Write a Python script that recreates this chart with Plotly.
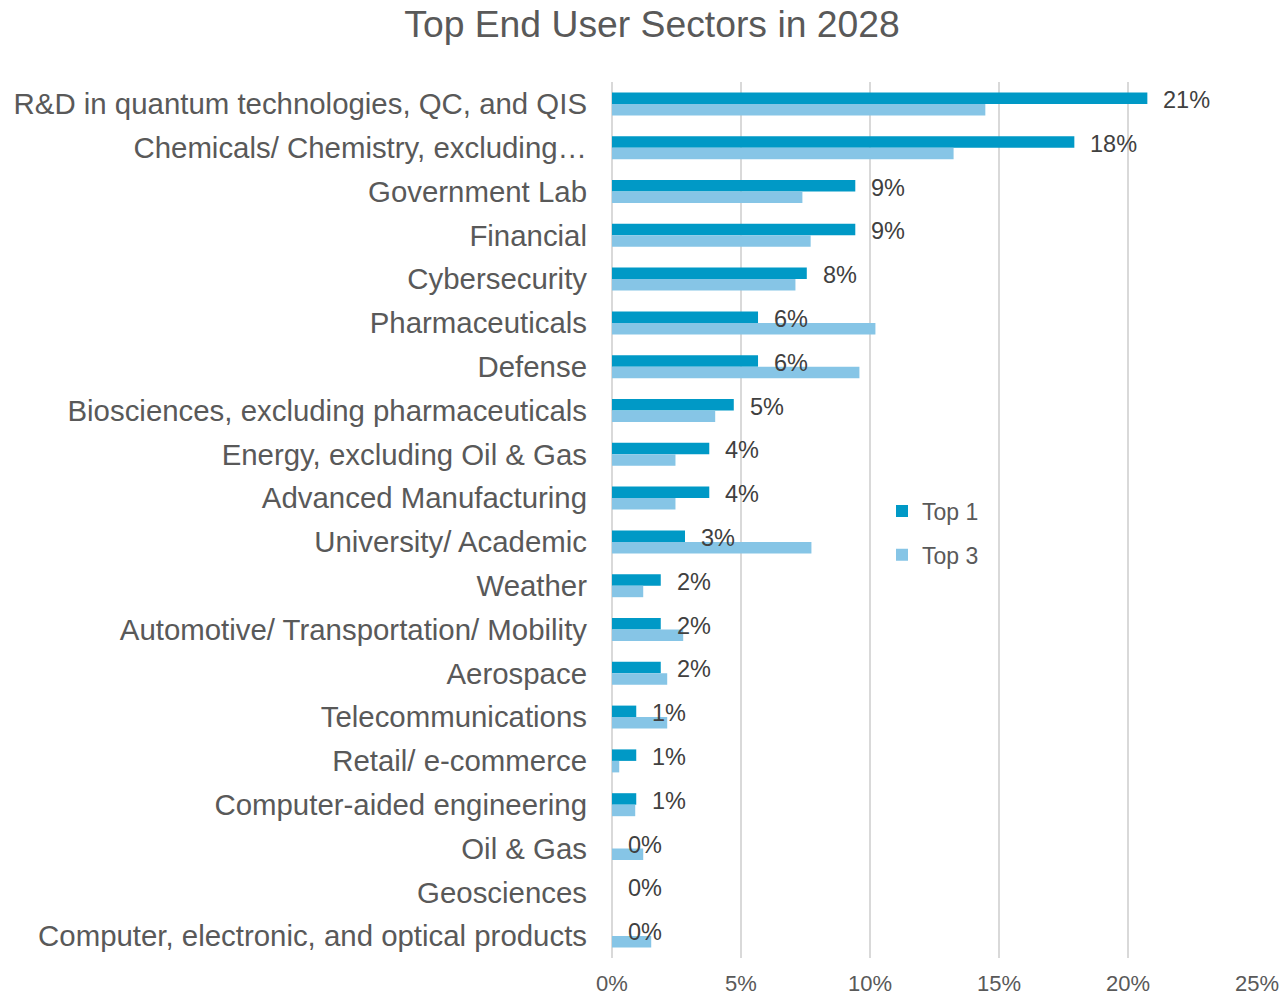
import plotly.graph_objects as go

# Sector names, top to bottom
sectors = [
    "R&D in quantum technologies, QC, and QIS",
    "Chemicals/ Chemistry, excluding…",
    "Government Lab",
    "Financial",
    "Cybersecurity",
    "Pharmaceuticals",
    "Defense",
    "Biosciences, excluding pharmaceuticals",
    "Energy, excluding Oil & Gas",
    "Advanced Manufacturing",
    "University/ Academic",
    "Weather",
    "Automotive/ Transportation/ Mobility",
    "Aerospace",
    "Telecommunications",
    "Retail/ e-commerce",
    "Computer-aided engineering",
    "Oil & Gas",
    "Geosciences",
    "Computer, electronic, and optical products",
]

# Share of respondents (%) ranking the sector first
top1 = [20.75, 17.92, 9.43, 9.43, 7.55, 5.66, 5.66, 4.72, 3.77, 3.77,
        2.83, 1.89, 1.89, 1.89, 0.94, 0.94, 0.94, 0.0, 0.0, 0.0]

# Share of respondents (%) ranking the sector in their top three
top3 = [14.47, 13.24, 7.38, 7.70, 7.11, 10.21, 9.59, 4.00, 2.46, 2.46,
        7.73, 1.21, 2.76, 2.14, 2.14, 0.28, 0.90, 1.21, 0.0, 1.52]

x_ticks = [0, 5, 10, 15, 20, 25]
x_tick_labels = ["0%", "5%", "10%", "15%", "20%", "25%"]

FONT = "Liberation Sans, Arial, sans-serif"
GREY = "#595959"
DARK_BLUE = "#0099C6"
LIGHT_BLUE = "#86C5E6"

fig = go.Figure()
fig.add_trace(go.Bar(
    y=sectors, x=top1, name="Top 1", orientation="h",
    marker=dict(color=DARK_BLUE, line=dict(width=0)),
    legendgroup="t1",
))
fig.add_trace(go.Bar(
    y=sectors, x=top3, name="Top 3", orientation="h",
    marker=dict(color=LIGHT_BLUE, line=dict(width=0)),
    legendgroup="t3",
))

# Value labels beside the "Top 1" bars
annotations = []
for s, v in zip(sectors, top1):
    annotations.append(dict(
        x=v, y=s, xref="x", yref="y",
        text=f"{v:.0f}%", showarrow=False,
        xanchor="left", yanchor="middle",
        xshift=14, yshift=4,
        font=dict(family=FONT, size=23.5, color="#404040"),
    ))

fig.update_layout(
    width=1286, height=996,
    paper_bgcolor="white", plot_bgcolor="white",
    margin=dict(l=612, r=29, t=82, b=38, autoexpand=False),
    barmode="group", bargap=0.475, bargroupgap=0,
    title=dict(
        text="Top End User Sectors in 2028",
        font=dict(family=FONT, size=37.3, color=GREY),
        x=652 / 1286, xanchor="center", xref="container",
        y=1 - 24 / 996, yanchor="middle", yref="container",
    ),
    font=dict(family=FONT, color=GREY),
    legend=dict(
        x=(882 - 612) / 645, xanchor="left",
        y=(958.5 - 490) / 876, yanchor="top",
        font=dict(family=FONT, size=23, color=GREY),
        traceorder="grouped", tracegroupgap=11,
        bgcolor="rgba(0,0,0,0)",
    ),
    annotations=annotations,
    xaxis=dict(
        range=[0, 25], tickvals=x_ticks, ticktext=x_tick_labels,
        showgrid=True, gridcolor="#D9D9D9", gridwidth=1.5,
        zeroline=True, zerolinecolor="#D9D9D9", zerolinewidth=1.5,
        showline=False, ticks="", ticklabelstandoff=10,
        tickfont=dict(family=FONT, size=22, color=GREY),
        fixedrange=True,
    ),
    yaxis=dict(
        type="category", autorange="reversed",
        showgrid=False, zeroline=False, showline=False, ticks="",
        ticklabelstandoff=24,
        tickfont=dict(family=FONT, size=29.4, color=GREY),
        fixedrange=True,
    ),
)

fig.write_html("out.html")
